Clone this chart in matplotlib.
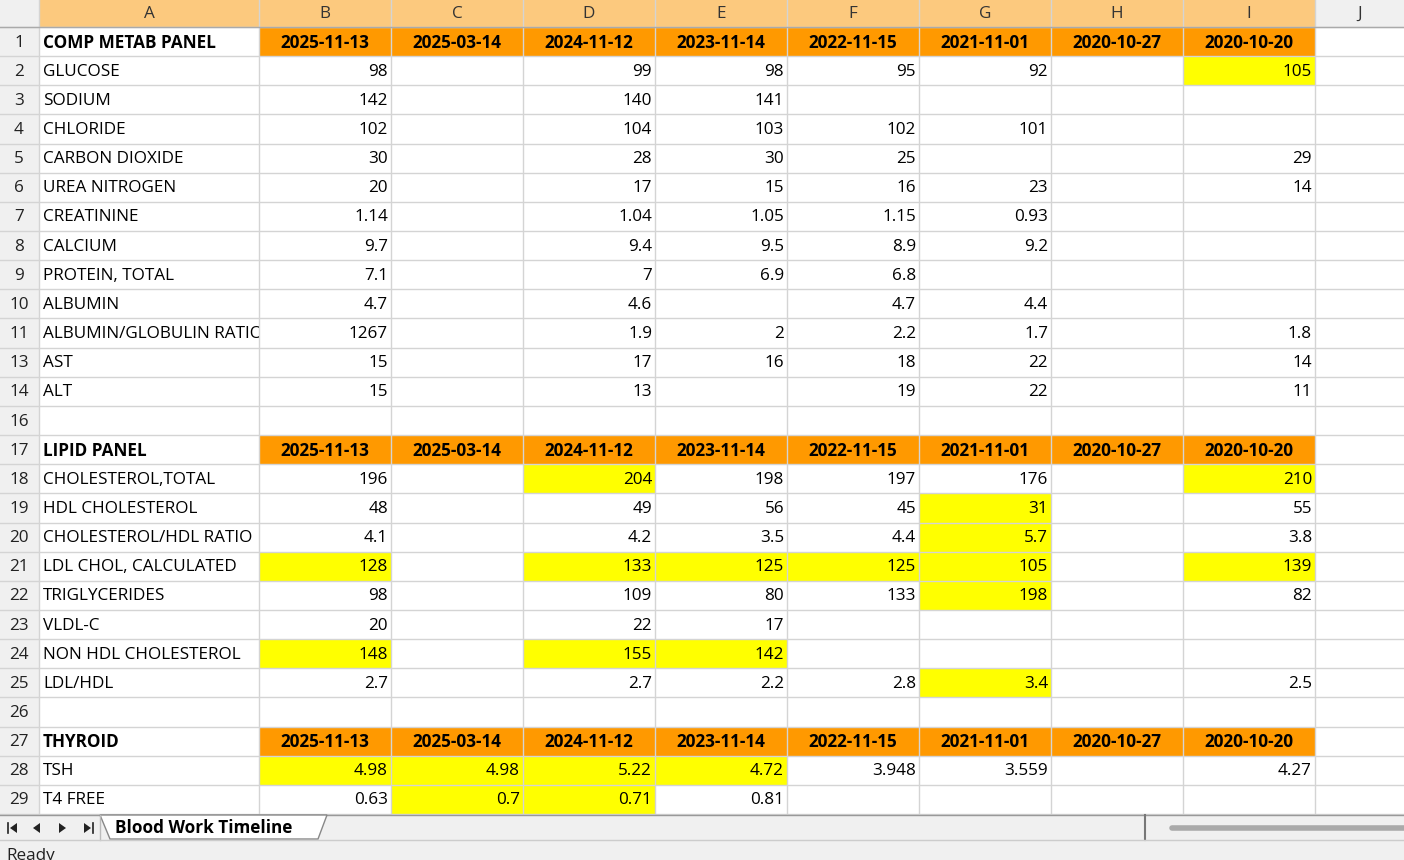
import matplotlib
matplotlib.use("Agg")
import matplotlib.pyplot as plt
from matplotlib.patches import Rectangle, Polygon

plt.rcParams['font.family'] = ['Open Sans', 'DejaVu Sans']

col_letters = ["A", "B", "C", "D", "E", "F", "G", "H", "I", "J"]
dates = ["2025-11-13", "2025-03-14", "2024-11-12", "2023-11-14", "2022-11-15",
         "2021-11-01", "2020-10-27", "2020-10-20"]
row_numbers = [1, 2, 3, 4, 5, 6, 7, 8, 9, 10, 11, 13, 14, 16, 17, 18, 19, 20,
               21, 22, 23, 24, 25, 26, 27, 28, 29]
row_labels = ["COMP METAB PANEL", "GLUCOSE", "SODIUM", "CHLORIDE", "CARBON DIOXIDE",
              "UREA NITROGEN", "CREATININE", "CALCIUM", "PROTEIN, TOTAL", "ALBUMIN",
              "ALBUMIN/GLOBULIN RATIO", "AST", "ALT", "",
              "LIPID PANEL", "CHOLESTEROL,TOTAL", "HDL CHOLESTEROL", "CHOLESTEROL/HDL RATIO",
              "LDL CHOL, CALCULATED", "TRIGLYCERIDES", "VLDL-C", "NON HDL CHOLESTEROL",
              "LDL/HDL", "", "THYROID", "TSH", "T4 FREE"]
header_rows = [1, 17, 27]
values = {
    2: ["98", "", "99", "98", "95", "92", "", "105"],
    3: ["142", "", "140", "141", "", "", "", ""],
    4: ["102", "", "104", "103", "102", "101", "", ""],
    5: ["30", "", "28", "30", "25", "", "", "29"],
    6: ["20", "", "17", "15", "16", "23", "", "14"],
    7: ["1.14", "", "1.04", "1.05", "1.15", "0.93", "", ""],
    8: ["9.7", "", "9.4", "9.5", "8.9", "9.2", "", ""],
    9: ["7.1", "", "7", "6.9", "6.8", "", "", ""],
    10: ["4.7", "", "4.6", "", "4.7", "4.4", "", ""],
    11: ["1267", "", "1.9", "2", "2.2", "1.7", "", "1.8"],
    13: ["15", "", "17", "16", "18", "22", "", "14"],
    14: ["15", "", "13", "", "19", "22", "", "11"],
    18: ["196", "", "204", "198", "197", "176", "", "210"],
    19: ["48", "", "49", "56", "45", "31", "", "55"],
    20: ["4.1", "", "4.2", "3.5", "4.4", "5.7", "", "3.8"],
    21: ["128", "", "133", "125", "125", "105", "", "139"],
    22: ["98", "", "109", "80", "133", "198", "", "82"],
    23: ["20", "", "22", "17", "", "", "", ""],
    24: ["148", "", "155", "142", "", "", "", ""],
    25: ["2.7", "", "2.7", "2.2", "2.8", "3.4", "", "2.5"],
    28: ["4.98", "4.98", "5.22", "4.72", "3.948", "3.559", "", "4.27"],
    29: ["0.63", "0.7", "0.71", "0.81", "", "", "", ""],
}
# highlighted cells: (row number, date column index 0..7)
highlights = [(2, 7), (18, 2), (18, 7), (19, 5), (20, 5), (21, 0), (21, 2), (21, 3),
              (21, 4), (21, 5), (21, 7), (22, 5), (24, 0), (24, 2), (24, 3), (25, 5),
              (28, 0), (28, 1), (28, 2), (28, 3), (29, 1), (29, 2)]

W, H = 1404, 860
fig = plt.figure(figsize=(W / 100, H / 100), dpi=100)
ax = fig.add_axes([0, 0, 1, 1])
ax.set_xlim(0, W)
ax.set_ylim(H, 0)
ax.axis('off')

col_edges = [39, 259, 391, 523, 655, 787, 919, 1051, 1183, 1315, 1404]
top = 27
row_h = (814 - top) / len(row_numbers)
grid = '#d4d4d4'
fs = 12.3

ax.add_patch(Rectangle((0, 0), W, H, color='white', zorder=0))
ax.add_patch(Rectangle((0, 0), W, top, facecolor='#f0f0f0', edgecolor='none', zorder=1))
ax.add_patch(Rectangle((39, 0), 1315 - 39, top, facecolor='#fcc97e', edgecolor='none', zorder=1))
for i, L in enumerate(col_letters):
    x0, x1 = col_edges[i], col_edges[i + 1]
    ax.text((x0 + x1) / 2, top / 2, L, ha='center', va='center', fontsize=fs, color='#333', zorder=3)
ax.add_patch(Rectangle((0, top), 39, 814 - top, facecolor='#f0f0f0', edgecolor='none', zorder=1))

for r, rn in enumerate(row_numbers):
    y0 = top + r * row_h
    yc = y0 + row_h / 2 + 1
    ax.text(19, yc, str(rn), ha='center', va='center', fontsize=fs, color='#222', zorder=3)
    lab = row_labels[r]
    is_hdr = rn in header_rows
    if is_hdr:
        ax.add_patch(Rectangle((259, y0), 1315 - 259, row_h, facecolor='#ff9900', edgecolor='none', zorder=1))
        for j, d in enumerate(dates):
            ax.text((col_edges[j + 1] + col_edges[j + 2]) / 2, yc, d, ha='center', va='center',
                    fontsize=fs, fontweight='bold', color='black', zorder=3)
    txt = ax.text(43, yc, lab, ha='left', va='center', fontsize=fs,
                  fontweight='bold' if is_hdr else 'normal', color='black', zorder=3,
                  clip_on=not is_hdr)
    if not is_hdr:
        txt.set_clip_box(None)
        txt.set_clip_path(Rectangle((39, y0), 220, row_h, transform=ax.transData))
    if rn in values:
        for j, v in enumerate(values[rn]):
            if (rn, j) in highlights:
                ax.add_patch(Rectangle((col_edges[j + 1], y0), col_edges[j + 2] - col_edges[j + 1],
                                       row_h, facecolor='#ffff00', edgecolor='none', zorder=1))
            if v:
                ax.text(col_edges[j + 2] - 3, yc, v, ha='right', va='center', fontsize=fs,
                        color='black', zorder=3)

for r in range(len(row_numbers) + 1):
    y = top + r * row_h
    ax.plot([0, W], [y, y], color=grid, lw=1, zorder=2)
for x in col_edges[:-1]:
    ax.plot([x, x], [0, 814], color=grid, lw=1, zorder=2)
ax.plot([0, W], [top, top], color='#aaa', lw=1, zorder=2)

# tab bar
ax.add_patch(Rectangle((0, 815), W, 25, facecolor='#f0f0f0', edgecolor='none', zorder=1))
ax.plot([0, W], [815, 815], color='#999', lw=1, zorder=2)
ax.add_patch(Polygon([(100, 815), (327, 815), (318, 839), (110, 839)], closed=True,
                     facecolor='white', edgecolor='#888', lw=1, zorder=2))
ax.text(115, 828, "Blood Work Timeline", ha='left', va='center', fontsize=fs,
        fontweight='bold', color='black', zorder=3)
tri = dict(facecolor='#222', edgecolor='none', zorder=3)
ax.add_patch(Polygon([(17, 823), (17, 833), (10, 828)], closed=True, **tri))
ax.plot([8, 8], [823, 833], color='#222', lw=1.2, zorder=3)
ax.add_patch(Polygon([(40, 823), (40, 833), (33, 828)], closed=True, **tri))
ax.add_patch(Polygon([(59, 823), (59, 833), (66, 828)], closed=True, **tri))
ax.add_patch(Polygon([(84, 823), (84, 833), (91, 828)], closed=True, **tri))
ax.plot([93, 93], [823, 833], color='#222', lw=1.2, zorder=3)
ax.plot([100, 100], [815, 840], color='#bbb', lw=1, zorder=2)
ax.plot([1145, 1145], [815, 840], color='#777', lw=1.5, zorder=2)
ax.plot([1172, 1404], [828, 828], color='#aaa', lw=4, solid_capstyle='round', zorder=2)
ax.add_patch(Rectangle((0, 840), W, 20, facecolor='#f0f0f0', edgecolor='none', zorder=1))
ax.plot([0, W], [840, 840], color='#ccc', lw=1, zorder=2)
ax.text(6, 864, "Ready", ha='left', va='bottom', fontsize=fs, color='#222', zorder=3)

fig.savefig("out.png", dpi=100)
